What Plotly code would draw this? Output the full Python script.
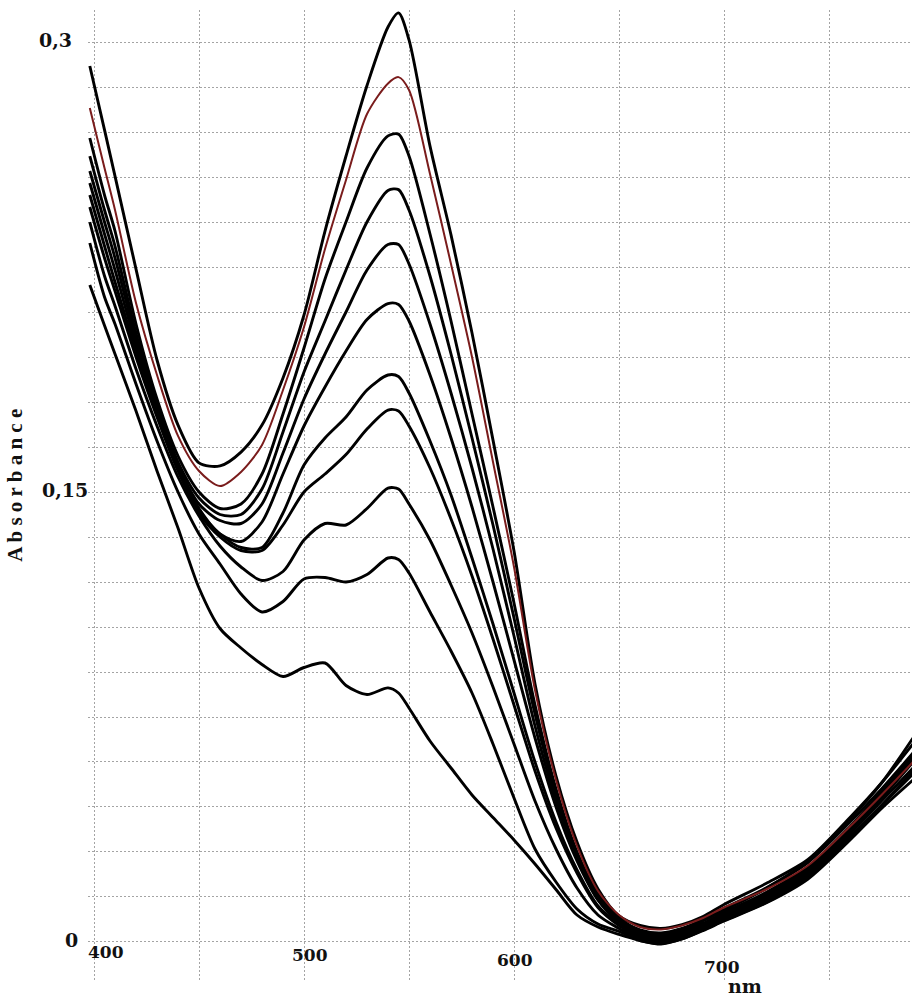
import plotly.graph_objects as go

# ---------------- data ----------------
wavelength = [398, 405, 410, 420, 430, 440, 450, 460, 470, 480, 490, 500, 510, 520, 530, 540, 545,
              550, 560, 570, 580, 590, 600, 610, 620, 630, 640, 650, 660, 670, 680, 690, 700,
              720, 740, 760, 775, 790]

c1 = [0.292, 0.2707, 0.2553, 0.2243, 0.194, 0.1723, 0.1597, 0.1587, 0.1633, 0.1723, 0.188, 0.209,
      0.237, 0.262, 0.2855, 0.305, 0.3097, 0.3007, 0.2653, 0.2357, 0.203, 0.1673, 0.1303, 0.086,
      0.0553, 0.0333, 0.0177, 0.0087, 0.0055, 0.0045, 0.0058, 0.0085, 0.0125, 0.0195, 0.0275,
      0.0415, 0.053, 0.066]
c2 = [0.278, 0.258, 0.244, 0.213, 0.189, 0.1687, 0.157, 0.152, 0.1567, 0.1657, 0.184, 0.205,
      0.231, 0.254, 0.276, 0.2862, 0.2883, 0.284, 0.256, 0.226, 0.195, 0.16, 0.125, 0.084,
      0.054, 0.032, 0.017, 0.009, 0.005, 0.0042, 0.0055, 0.008, 0.0115, 0.0175, 0.0255,
      0.0385, 0.049, 0.060]
c3 = [0.268, 0.249, 0.237, 0.206, 0.181, 0.162, 0.150, 0.1445, 0.146, 0.156, 0.176, 0.198,
      0.221, 0.240, 0.258, 0.2687, 0.2693, 0.262, 0.236, 0.207, 0.176, 0.145, 0.113, 0.079,
      0.051, 0.030, 0.016, 0.008, 0.004, 0.003, 0.0045, 0.0075, 0.0112, 0.018, 0.0265,
      0.040, 0.051, 0.063]
c4 = [0.262, 0.244, 0.232, 0.203, 0.179, 0.160, 0.148, 0.1425, 0.1425, 0.151, 0.170, 0.190,
      0.207, 0.224, 0.240, 0.2505, 0.2508, 0.244, 0.222, 0.196, 0.168, 0.139, 0.108, 0.076,
      0.049, 0.029, 0.015, 0.0075, 0.0035, 0.0025, 0.004, 0.007, 0.0105, 0.0178, 0.027,
      0.041, 0.053, 0.068]
c5 = [0.257, 0.240, 0.228, 0.201, 0.178, 0.159, 0.146, 0.1405, 0.1395, 0.146, 0.163, 0.181,
      0.196, 0.210, 0.224, 0.2325, 0.2325, 0.226, 0.206, 0.183, 0.158, 0.131, 0.102, 0.072,
      0.047, 0.028, 0.014, 0.007, 0.003, 0.002, 0.0035, 0.0062, 0.0098, 0.0165, 0.025,
      0.0385, 0.050, 0.062]
c6 = [0.253, 0.236, 0.224, 0.199, 0.177, 0.158, 0.1445, 0.136, 0.1335, 0.140, 0.156, 0.172,
      0.185, 0.197, 0.2075, 0.2128, 0.2125, 0.207, 0.189, 0.168, 0.145, 0.120, 0.094, 0.068,
      0.045, 0.027, 0.014, 0.0065, 0.0025, 0.0015, 0.003, 0.0058, 0.0092, 0.0158, 0.0242,
      0.0372, 0.048, 0.060]
c7 = [0.249, 0.232, 0.220, 0.197, 0.176, 0.158, 0.144, 0.136, 0.1315, 0.1315, 0.143, 0.159,
      0.168, 0.175, 0.184, 0.189, 0.1885, 0.183, 0.167, 0.149, 0.128, 0.106, 0.083, 0.060,
      0.040, 0.024, 0.012, 0.006, 0.002, 0.001, 0.0025, 0.0055, 0.0088, 0.0152, 0.0235,
      0.0375, 0.049, 0.061]
c8 = [0.245, 0.228, 0.217, 0.195, 0.175, 0.157, 0.143, 0.135, 0.1305, 0.1305, 0.139, 0.150,
      0.156, 0.1625, 0.171, 0.1773, 0.177, 0.172, 0.158, 0.141, 0.122, 0.101, 0.079, 0.057,
      0.038, 0.023, 0.0115, 0.0055, 0.0015, 0.0005, 0.002, 0.005, 0.0082, 0.0145, 0.0228,
      0.0362, 0.047, 0.058]
c9 = [0.240, 0.222, 0.212, 0.191, 0.172, 0.155, 0.142, 0.132, 0.125, 0.1205, 0.1235, 0.134,
      0.1395, 0.139, 0.1445, 0.1513, 0.151, 0.146, 0.134, 0.119, 0.103, 0.085, 0.066, 0.047,
      0.031, 0.018, 0.009, 0.0045, 0.001, 0.0, 0.0015, 0.0045, 0.0078, 0.0138, 0.022,
      0.0352, 0.0455, 0.056]
c10 = [0.233, 0.215, 0.206, 0.186, 0.167, 0.150, 0.136, 0.126, 0.116, 0.110, 0.1135, 0.121,
       0.1215, 0.120, 0.1225, 0.128, 0.1275, 0.123, 0.110, 0.097, 0.083, 0.066, 0.048, 0.031,
       0.020, 0.011, 0.006, 0.0035, 0.0005, -0.0005, 0.001, 0.004, 0.0072, 0.0132, 0.0215,
       0.0348, 0.0455, 0.057]
c11 = [0.219, 0.2055, 0.196, 0.177, 0.157, 0.138, 0.118, 0.1045, 0.098, 0.0925, 0.0885, 0.0915,
       0.093, 0.0855, 0.0825, 0.0847, 0.083, 0.078, 0.067, 0.058, 0.049, 0.0415, 0.034, 0.026,
       0.0175, 0.009, 0.005, 0.0025, 0.0005, -0.0007, 0.001, 0.0038, 0.007, 0.013, 0.021,
       0.034, 0.0445, 0.054]

black_series = [c1, c3, c4, c5, c6, c7, c8, c9, c10, c11]
red_series = c2

y_tick_vals = [0, 0.15, 0.3]
y_tick_text = ["0", "0,15", "0,3"]
x_tick_vals = [400, 500, 600, 700]
x_tick_text = ["400", "500", "600", "700"]
x_grid = [400, 450, 500, 550, 600, 650, 700, 750]
y_grid = [round(i * 0.015, 3) for i in range(21)]

x_title = "nm"
y_title = "A b s o r b a n c e"

# ---------------- figure ----------------
fig = go.Figure()
for s in black_series:
    fig.add_trace(go.Scatter(x=wavelength, y=s, mode="lines",
                             line=dict(color="#000000", width=2.9, shape="spline", smoothing=0.8),
                             showlegend=False, hoverinfo="skip"))
fig.add_trace(go.Scatter(x=wavelength, y=red_series, mode="lines",
                         line=dict(color="#7a1c1c", width=2.0, shape="spline", smoothing=0.8),
                         showlegend=False, hoverinfo="skip"))

grid_style = dict(showgrid=True, gridcolor="#a4a4a4", gridwidth=1, griddash="2px,2px",
                  zeroline=False, showline=False, ticks="", showticklabels=False)

fig.update_xaxes(range=[397.14, 789.52], tickmode="array", tickvals=x_grid, **grid_style)
fig.update_yaxes(range=[-0.01267, 0.31067], tickmode="array", tickvals=y_grid, **grid_style)

label_font = dict(family="DejaVu Serif", size=19, color="#111111")

# y tick labels
y_label_xshift = {"0": -8, "0,15": 2, "0,3": -14}
for v, t in zip(y_tick_vals, y_tick_text):
    fig.add_annotation(x=0, xref="paper", y=v, yref="y", text="<b>%s</b>" % t,
                       showarrow=False, xanchor="right", yanchor="middle",
                       xshift=y_label_xshift[t], yshift=2, font=label_font)

# x tick labels (slightly descending, as in the scanned original)
x_label_dy = [-10, -13, -18, -25]
x_label_dx = [12, 6, 1, -2]
for v, t, dy, dx in zip(x_tick_vals, x_tick_text, x_label_dy, x_label_dx):
    fig.add_annotation(x=v, xref="x", y=0, yref="y", text="<b>%s</b>" % t,
                       showarrow=False, xanchor="center", yanchor="middle",
                       xshift=dx, yshift=dy, font=dict(family="DejaVu Serif", size=17, color="#111111"))

fig.add_annotation(x=710, xref="x", y=0, yref="paper", text="<b>%s</b>" % x_title,
                   showarrow=False, xanchor="center", yanchor="middle", yshift=-6,
                   font=dict(family="DejaVu Serif", size=19, color="#111111"))

fig.add_annotation(x=-0.088, xref="paper", y=0.51, yref="paper", text="<b>%s</b>" % y_title,
                   showarrow=False, textangle=-90, xanchor="center", yanchor="middle",
                   font=dict(family="Liberation Serif", size=21, color="#111111"))

fig.update_layout(width=912, height=1004, autosize=False,
                  margin=dict(l=88, r=0, t=10, b=24),
                  paper_bgcolor="white", plot_bgcolor="white")

fig.write_html("out.html")
